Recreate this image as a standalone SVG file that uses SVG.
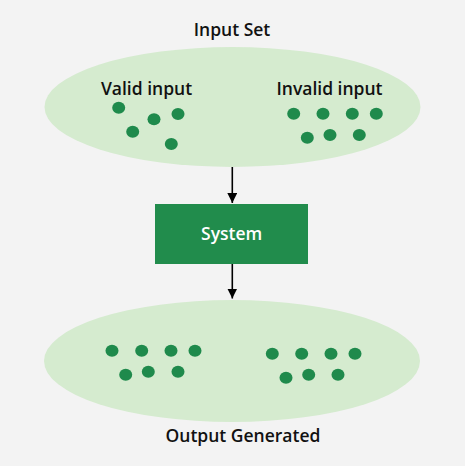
<svg xmlns="http://www.w3.org/2000/svg" width="465" height="466" viewBox="0 0 465 466">
<defs>
<style>
.lbl{font-family:"Open Sans","Noto Sans","Liberation Sans",sans-serif;font-weight:600;font-size:17.5px;fill:#111;text-anchor:middle}
.set{fill:#d5ebcf}
.dot{fill:#1f8a4c}
.conn{stroke:#000;stroke-width:1.6;fill:none}
</style>
<marker id="ah" viewBox="0 0 10 10" refX="10" refY="5" markerWidth="10" markerHeight="10" markerUnits="userSpaceOnUse" orient="auto">
<path d="M0,0 L10,5 L0,10 z" fill="#000"/>
</marker>
</defs>
<rect width="465" height="466" fill="#f3f3f3"/>
<g id="input-set">
<text class="lbl" x="232" y="35.5">Input Set</text>
<ellipse class="set" cx="232.5" cy="107" rx="188" ry="60"/>
<text class="lbl" x="146.5" y="95">Valid input</text>
<text class="lbl" x="329.5" y="95">Invalid input</text>
<g class="dot">
<ellipse cx="118.7" cy="107.7" rx="6.5" ry="6"/>
<ellipse cx="154" cy="119.3" rx="6.5" ry="6"/>
<ellipse cx="178" cy="114" rx="6.5" ry="6"/>
<ellipse cx="132.7" cy="131.7" rx="6.5" ry="6"/>
<ellipse cx="171.3" cy="144" rx="6.5" ry="6"/>
<ellipse cx="293.7" cy="113.7" rx="6.5" ry="6"/>
<ellipse cx="323" cy="113.7" rx="6.5" ry="6"/>
<ellipse cx="352.3" cy="113.7" rx="6.5" ry="6"/>
<ellipse cx="376.3" cy="113.7" rx="6.5" ry="6"/>
<ellipse cx="307.3" cy="137.7" rx="6.5" ry="6"/>
<ellipse cx="330" cy="135" rx="6.5" ry="6"/>
<ellipse cx="359.3" cy="135" rx="6.5" ry="6"/>
</g>
</g>
<g id="system">
<rect x="155" y="204" width="153" height="60" fill="#218c4c"/>
<text class="lbl" x="231.7" y="240" style="fill:#ffffff">System</text>
</g>
<g id="output-set">
<ellipse class="set" cx="232" cy="361" rx="188" ry="61"/>
<g class="dot">
<ellipse cx="112" cy="350.7" rx="6.5" ry="6"/>
<ellipse cx="141.7" cy="350.7" rx="6.5" ry="6"/>
<ellipse cx="171" cy="350.7" rx="6.5" ry="6"/>
<ellipse cx="195" cy="350.7" rx="6.5" ry="6"/>
<ellipse cx="125.7" cy="374.7" rx="6.5" ry="6"/>
<ellipse cx="148.3" cy="371.7" rx="6.5" ry="6"/>
<ellipse cx="178" cy="371.7" rx="6.5" ry="6"/>
<ellipse cx="272.3" cy="353.7" rx="6.5" ry="6"/>
<ellipse cx="301.7" cy="353.7" rx="6.5" ry="6"/>
<ellipse cx="331" cy="353.7" rx="6.5" ry="6"/>
<ellipse cx="355" cy="353.7" rx="6.5" ry="6"/>
<ellipse cx="286" cy="377.7" rx="6.5" ry="6"/>
<ellipse cx="308.7" cy="374.7" rx="6.5" ry="6"/>
<ellipse cx="338" cy="374.7" rx="6.5" ry="6"/>
</g>
<text class="lbl" x="243" y="441.5">Output Generated</text>
</g>
<g id="connectors">
<line class="conn" x1="232.3" y1="167" x2="232.3" y2="203" marker-end="url(#ah)"/>
<line class="conn" x1="232.3" y1="264" x2="232.3" y2="298.5" marker-end="url(#ah)"/>
</g>
</svg>
